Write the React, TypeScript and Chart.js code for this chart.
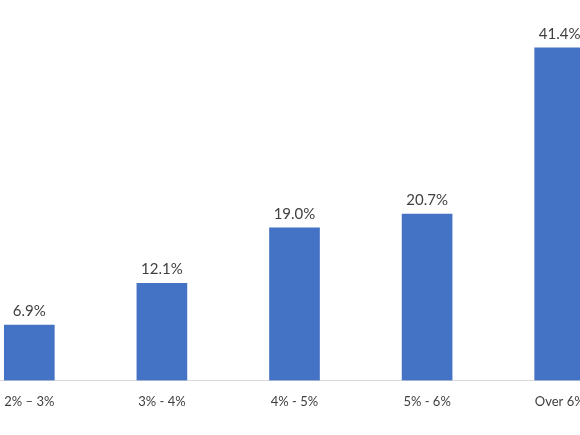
import React, { useEffect, useRef } from "react";
import { Chart, registerables } from "chart.js";

Chart.register(...registerables);

const categories = ["2% – 3%", "3% - 4%", "4% - 5%", "5% - 6%", "Over 6%"];
const values = [6.9, 12.1, 19.0, 20.7, 41.4];
const valueLabels = ["6.9%", "12.1%", "19.0%", "20.7%", "41.4%"];

const FONT = "Lato, 'Open Sans', sans-serif";

const labelPlugin = {
  id: "valueLabels",
  afterDatasetsDraw(chart: any) {
    const ctx = chart.ctx;
    const meta = chart.getDatasetMeta(0);
    ctx.save();
    ctx.font = `15px ${FONT}`;
    ctx.fillStyle = "#404040";
    ctx.textAlign = "center";
    ctx.textBaseline = "alphabetic";
    meta.data.forEach((bar: any, i: number) => {
      ctx.fillText(valueLabels[i], bar.x, bar.y - 9);
    });
    ctx.restore();
  },
};

export default function App() {
  const ref = useRef<HTMLCanvasElement>(null);
  useEffect(() => {
    if (!ref.current) return;
    const chart = new Chart(ref.current, {
      type: "bar",
      data: {
        labels: categories,
        datasets: [
          {
            data: values,
            backgroundColor: "#4472C4",
            barThickness: 50,
          },
        ],
      },
      options: {
        animation: false,
        responsive: false,
        maintainAspectRatio: false,
        layout: { padding: { top: 19, left: 0, right: 0, bottom: 0 } },
        plugins: { legend: { display: false }, tooltip: { enabled: false } },
        scales: {
          y: { display: false, min: 0, max: 45 },
          x: {
            grid: { display: false, drawTicks: false },
            border: { display: true, color: "#d9d9d9", width: 1 },
            ticks: {
              color: "#404040",
              font: { family: FONT, size: 13 },
              padding: 14,
              maxRotation: 0,
              autoSkip: false,
            },
          },
        },
      },
      plugins: [labelPlugin],
    });
    return () => chart.destroy();
  }, []);
  return (
    <div
      style={{
        position: "fixed",
        left: 0,
        top: 0,
        width: 580,
        height: 435,
        overflow: "hidden",
        background: "#fff",
      }}
    >
      <canvas
        ref={ref}
        width={663}
        height={424}
        style={{ position: "absolute", left: -37, top: 0, width: 663, height: 424 }}
      />
    </div>
  );
}
